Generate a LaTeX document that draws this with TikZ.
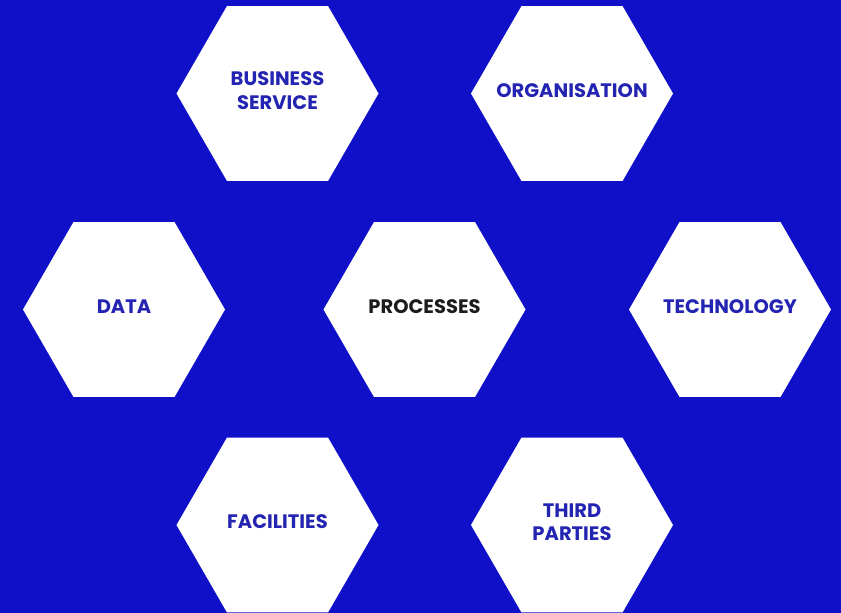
\documentclass[tikz,border=0pt]{standalone}
\usepackage{fontspec}
\setmainfont{Poppins}
\usetikzlibrary{shapes.geometric}
\definecolor{bgblue}{RGB}{16,16,200}
\definecolor{txtblue}{RGB}{36,36,178}
\definecolor{txtdark}{RGB}{28,28,28}
\tikzset{
  hexa/.style={regular polygon, regular polygon sides=6, minimum size=202pt,
    inner sep=0pt, outer sep=0pt, fill=white, draw=none},
  hexlabel/.style={text=txtblue, align=center, inner sep=0pt, yshift=3pt,
    font=\fontsize{19.5}{23.5}\selectfont\bfseries},
}
\begin{document}
\begin{tikzpicture}[x=1pt,y=-1pt]
\fill[bgblue] (0,0) rectangle (841,613);
\useasboundingbox (0,0) rectangle (841,613);
\node[hexa] (biz)   at (277.5,93.5)  {};
\node[hexa] (org)   at (572,93.5)    {};
\node[hexa] (data)  at (124,309.5)   {};
\node[hexa] (proc)  at (424.5,309.5) {};
\node[hexa] (tech)  at (730,309.5)   {};
\node[hexa] (fac)   at (277.5,525)   {};
\node[hexa] (third) at (572,525)     {};
\node[hexlabel] (bizT)   at (biz)   {BUSINESS\\SERVICE};
\node[hexlabel] (orgT)   at (org)   {ORGANISATION};
\node[hexlabel] (dataT)  at (data)  {DATA};
\node[hexlabel,text=txtdark] (procT) at (proc) {PROCESSES};
\node[hexlabel] (techT)  at (tech)  {TECHNOLOGY};
\node[hexlabel] (facT)   at (fac)   {FACILITIES};
\node[hexlabel] (thirdT) at (third) {THIRD\\PARTIES};
\end{tikzpicture}
\end{document}
